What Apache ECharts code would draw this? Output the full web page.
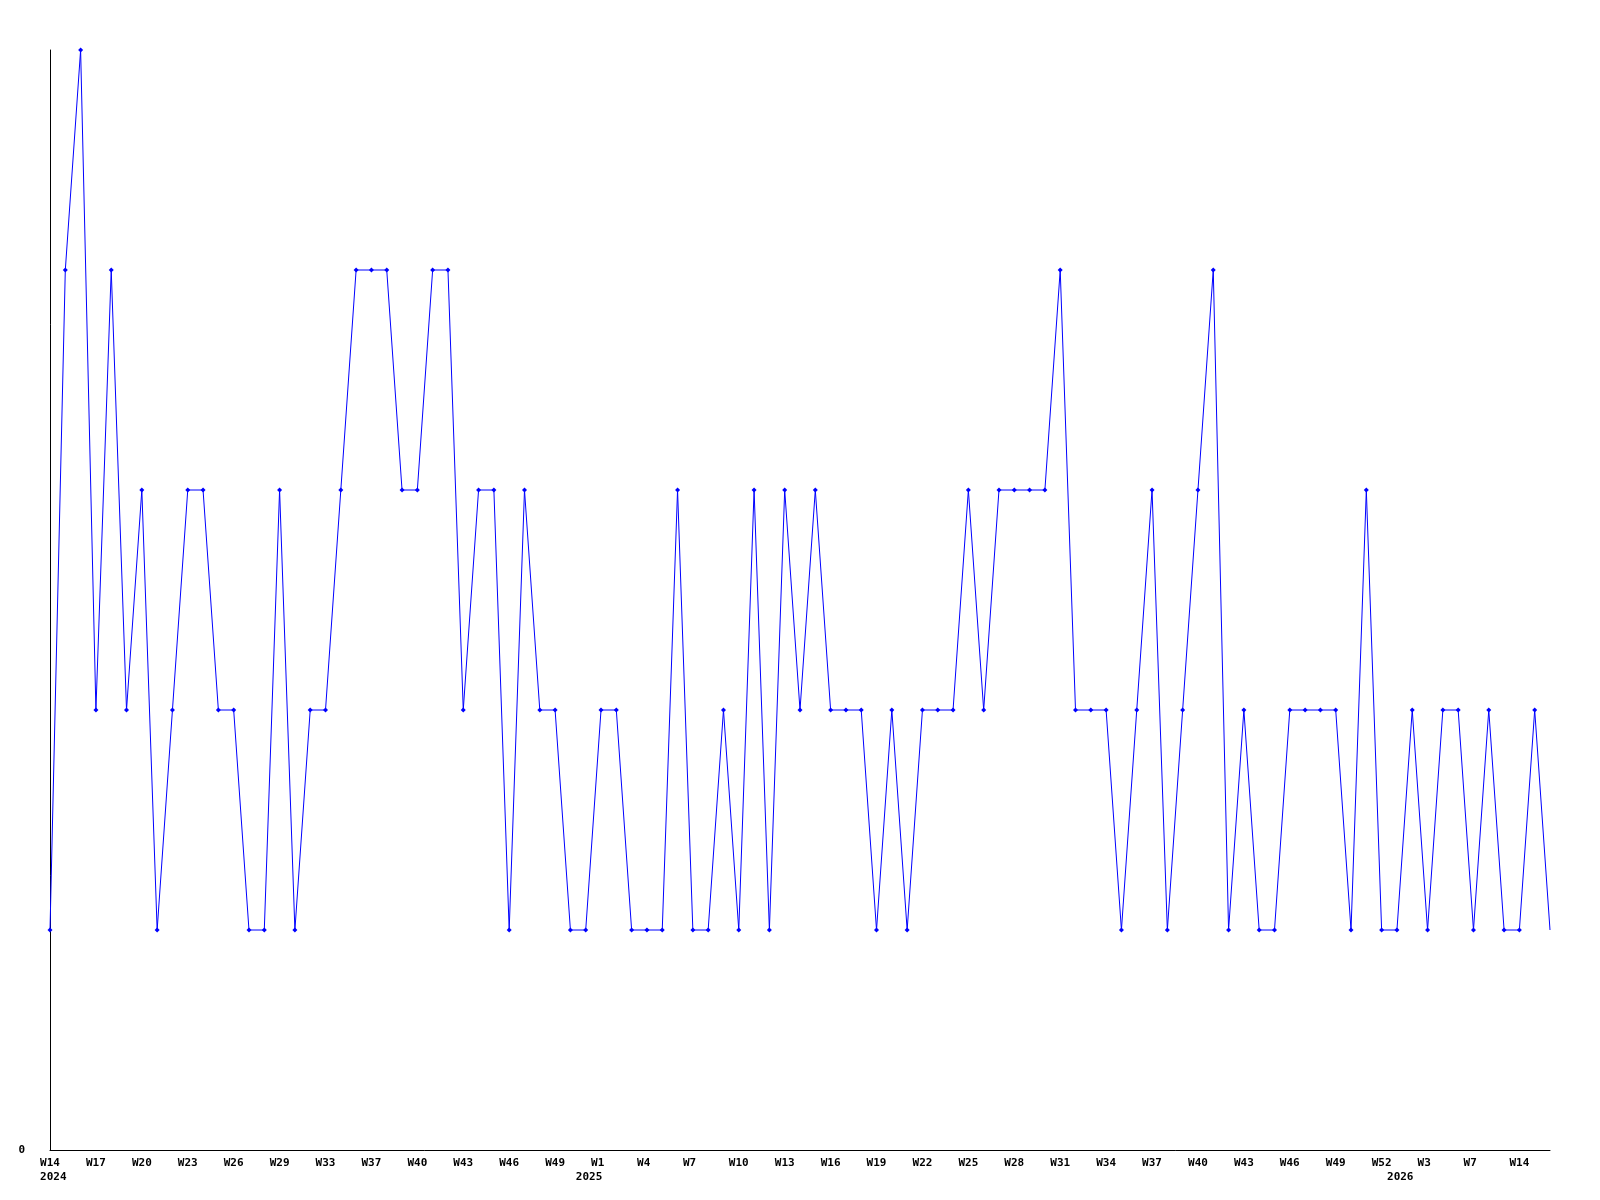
<!DOCTYPE html>
<html>
<head>
<meta charset="utf-8">
<title>Weekly</title>
<script src="https://cdn.jsdelivr.net/npm/echarts@6/dist/echarts.min.js"></script>
<style>
  html, body { margin: 0; padding: 0; background: #fff; }
  #chart { width: 1600px; height: 1200px; }
</style>
</head>
<body>
<div id="chart"></div>
<script>
;(function () {
  // weeks shown on the x axis (year-week), some weeks missing from the data
  const weeks2024 = ['W14', 'W15', 'W16', 'W17', 'W18', 'W19', 'W20', 'W21', 'W22', 'W23',
    'W24', 'W25', 'W26', 'W27', 'W28', 'W29', 'W30', 'W31', 'W33', 'W34', 'W35', 'W37',
    'W38', 'W39', 'W40', 'W41', 'W42', 'W43', 'W44', 'W45', 'W46', 'W47', 'W48', 'W49',
    'W50', 'W51']
  const weeks2025 = ['W1', 'W2', 'W3', 'W4', 'W5', 'W6', 'W7', 'W8', 'W9', 'W10', 'W11',
    'W12', 'W13', 'W14', 'W15', 'W16', 'W17', 'W18', 'W19', 'W20', 'W21', 'W22', 'W23',
    'W24', 'W25', 'W26', 'W27', 'W28', 'W29', 'W30', 'W31', 'W32', 'W33', 'W34', 'W35',
    'W36', 'W37', 'W38', 'W39', 'W40', 'W41', 'W42', 'W43', 'W44', 'W45', 'W46', 'W47',
    'W48', 'W49', 'W50', 'W51', 'W52']
  const weeks2026 = ['W1', 'W2', 'W3', 'W4', 'W5', 'W7', 'W9', 'W11', 'W14', 'W15', 'W16']

  // year labels under the axis: [category index, text]
  const yearTicks = [[0, '2024'], [35, '2025'], [88, '2026']]

  // value per week
  const counts = [
    1, 4, 5, 2, 4, 2, 3, 1, 2, 3, 3, 2, 2, 1, 1, 3, 1, 2, 2, 3,
    4, 4, 4, 3, 3, 4, 4, 2, 3, 3, 1, 3, 2, 2, 1, 1, 2, 2, 1, 1,
    1, 3, 1, 1, 2, 1, 3, 1, 3, 2, 3, 2, 2, 2, 1, 2, 1, 2, 2, 2,
    3, 2, 3, 3, 3, 3, 4, 2, 2, 2, 1, 2, 3, 1, 2, 3, 4, 1, 2, 1,
    1, 2, 2, 2, 2, 1, 3, 1, 1, 2, 1, 2, 2, 1, 2, 1, 1, 2, 1,
  ]

  const categories = []
  weeks2024.forEach((w) => categories.push('2024-' + w))
  weeks2025.forEach((w) => categories.push('2025-' + w))
  weeks2026.forEach((w) => categories.push('2026-' + w))

  const yearAt = {}
  yearTicks.forEach((t) => { yearAt[t[0]] = t[1] })

  const font = '"DejaVu Sans Mono", monospace'
  const labelFont = {
    color: '#000',
    fontFamily: font,
    fontWeight: 'bold',
    fontSize: 11,
  }

  let myChart = echarts.init(document.getElementById('chart'))
  let options = {
    animation: false,
    backgroundColor: '#fff',
    grid: {
      left: 50,
      right: 50,
      top: 50,
      bottom: 50,
    },
    xAxis: [
      {
        type: 'category',
        boundaryGap: false,
        data: categories,
        axisLine: {
          lineStyle: { color: '#000', width: 1 },
        },
        axisTick: { show: false },
        axisLabel: Object.assign({
          interval: 2,
          margin: 8,
          formatter: function (value) {
            // pad to 3 cells so short labels sit like the long ones
            return value.split('-')[1].padEnd(3, ' ')
          },
        }, labelFont),
      },
      {
        // second row: the years
        type: 'category',
        boundaryGap: false,
        data: categories,
        position: 'bottom',
        offset: 14,
        axisLine: { show: false },
        axisTick: { show: false },
        axisLabel: Object.assign({
          interval: function (index) {
            return yearAt[index] !== undefined
          },
          margin: 8,
          formatter: function (value, index) {
            return ' ' + yearAt[index]
          },
        }, labelFont),
      },
    ],
    yAxis: {
      type: 'value',
      min: 0,
      max: 5,
      interval: 5,
      axisLine: {
        show: true,
        lineStyle: { color: '#000', width: 1 },
      },
      axisTick: { show: false },
      splitLine: { show: false },
      axisLabel: Object.assign({
        margin: 25,
        formatter: function (v) {
          return v === 0 ? '0' : ''
        },
      }, labelFont),
    },
    series: [
      {
        type: 'line',
        xAxisIndex: 0,
        data: counts.map((v, i) => (i === counts.length - 1 ? { value: v, symbol: 'none' } : v)),
        symbol: 'diamond',
        symbolSize: 5,
        showSymbol: true,
        lineStyle: { color: '#0000ff', width: 1 },
        itemStyle: { color: '#0000ff' },
      },
    ],
  }
  myChart.setOption(options)
  window.addEventListener('resize', () => {
    myChart.resize()
  })
})()
</script>
</body>
</html>
